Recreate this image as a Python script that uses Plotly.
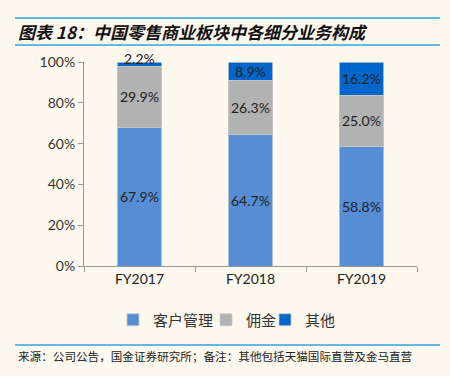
import plotly.graph_objects as go

categories = ["FY2017", "FY2018", "FY2019"]
kehu = [67.9, 64.7, 58.8]
yongjin = [29.9, 26.3, 25.0]
qita = [2.2, 8.9, 16.2]
series_names = ["客户管理", "佣金", "其他"]
colors = ["#558ED5", "#B2B2B2", "#0066CC"]
yticks = [0, 20, 40, 60, 80, 100]
ytick_labels = ["0%", "20%", "40%", "60%", "80%", "100%"]

title_text = "图表 18：中国零售商业板块中各细分业务构成"
source_text = "来源：公司公告，国金证券研究所；备注：其他包括天猫国际直营及金马直营"

bg = "#FEF9EF"
font_lat = "Lato, 'Noto Sans CJK SC', sans-serif"

W, H = 450, 376
L, R, T, B = 84, 33, 62, 110
pw, ph = W - L - R, H - T - B

def px_x(p):
    return (p - L) / pw

def px_y(p):
    return (H - B - p) / ph

legend_ids = ["legend", "legend2", "legend3"]
legend_px = [113, 206, 265]

fig = go.Figure()
all_series = [kehu, yongjin, qita]
for name, vals, col, lid in zip(series_names, all_series, colors, legend_ids):
    fig.add_trace(go.Bar(
        x=categories, y=vals, name=name, legend=lid,
        marker=dict(color=col, line=dict(color="#C8C8C8", width=0.8)),
        width=0.4,
    ))

annotations = []
for i, cat in enumerate(categories):
    base = 0
    for vals in all_series:
        v = vals[i]
        center = base + v / 2
        shift = 6 if v < 5 else 0
        annotations.append(dict(
            x=cat, y=center, xref="x", yref="y", text=f"{v:.1f}%",
            showarrow=False, yshift=shift,
            font=dict(family=font_lat, size=14, color="#222222"),
        ))
        base += v

annotations.append(dict(
    x=px_x(16), y=px_y(31), xref="paper", yref="paper", text=f"<b><i>{title_text}</i></b>",
    showarrow=False, xanchor="left", yanchor="middle",
    font=dict(family="'Noto Sans CJK SC', sans-serif", size=17, color="#111111"),
))
annotations.append(dict(
    x=px_x(16), y=px_y(356), xref="paper", yref="paper", text=source_text,
    showarrow=False, xanchor="left", yanchor="middle",
    font=dict(family="'Noto Sans CJK SC', sans-serif", size=11.6, color="#222222"),
))

shapes = []
for yy in [18, 45, 345]:
    shapes.append(dict(type="line", xref="paper", yref="paper",
                       x0=px_x(15), x1=px_x(440), y0=px_y(yy), y1=px_y(yy),
                       line=dict(color="#2EA3E6", width=1.5)))

legend_common = dict(orientation="h", y=px_y(320), xanchor="left", yanchor="middle",
                     font=dict(family=font_lat, size=15, color="#333333"),
                     bgcolor="rgba(0,0,0,0)")

fig.update_layout(
    barmode="stack",
    width=W, height=H,
    margin=dict(l=L, r=R, t=T, b=B),
    paper_bgcolor=bg, plot_bgcolor=bg,
    showlegend=True,
    legend=dict(x=px_x(legend_px[0]), **legend_common),
    legend2=dict(x=px_x(legend_px[1]), **legend_common),
    legend3=dict(x=px_x(legend_px[2]), **legend_common),
    annotations=annotations,
    shapes=shapes,
    xaxis=dict(showline=True, linecolor="#999999", linewidth=1, ticks="outside",
               tickson="boundaries", ticklen=5, tickcolor="#999999",
               tickfont=dict(family=font_lat, size=14, color="#222222"),
               showgrid=False, range=[-0.5, 2.5]),
    yaxis=dict(range=[0, 100], tickvals=yticks, ticktext=ytick_labels,
               showline=True, linecolor="#999999", linewidth=1, ticks="outside",
               ticklen=5, tickcolor="#999999", showgrid=False, zeroline=False,
               tickfont=dict(family=font_lat, size=14, color="#333333")),
)

fig.write_html("out.html", config={"displayModeBar": False},
               post_script="document.body.style.margin='0';document.body.style.background='#FEF9EF';")
